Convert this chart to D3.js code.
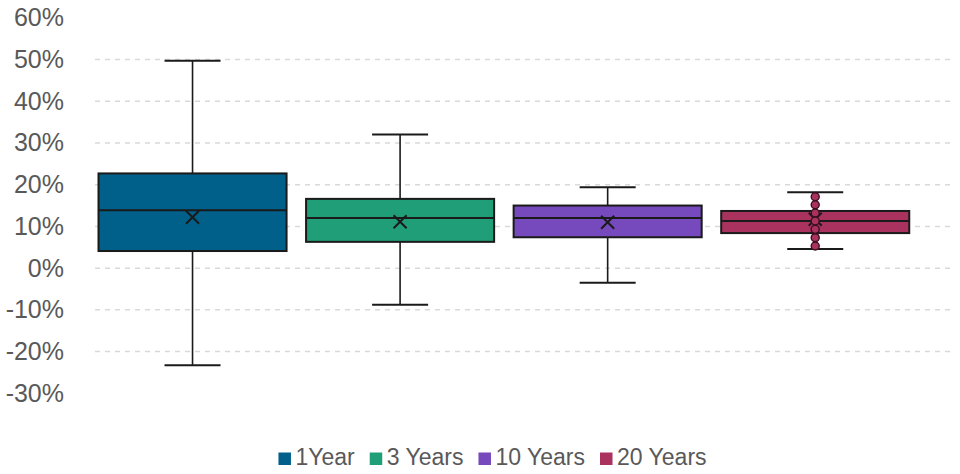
<!DOCTYPE html>
<html>
<head>
<meta charset="utf-8">
<script src="https://cdn.jsdelivr.net/npm/d3@7"></script>
<style>
  body { margin: 0; background: #fff; }
  text { font-family: "Liberation Sans", Arial, sans-serif; fill: #595959; }
</style>
</head>
<body>
<script>
// box plot stats (fractions)
var series = ["1Year", "3 Years", "10 Years", "20 Years"];
var colors = ["#01608A", "#1F9E78", "#7649BC", "#A9325E"];
var minVals = [-0.233, -0.088, -0.035, 0.046];
var q1Vals = [0.041, 0.063, 0.074, 0.084];
var medians = [0.139, 0.120, 0.120, 0.113];
var q3Vals = [0.227, 0.166, 0.150, 0.137];
var maxVals = [0.497, 0.320, 0.194, 0.182];
var means = [0.122, 0.111, 0.110, 0.117];
// inner points shown for the 20 year series
var innerPoints = [0.171, 0.152, 0.132, 0.113, 0.093, 0.073, 0.053];
var yTicks = [-0.3, -0.2, -0.1, 0, 0.1, 0.2, 0.3, 0.4, 0.5, 0.6];
var gridTicks = [-0.2, -0.1, 0, 0.1, 0.2, 0.3, 0.4, 0.5];

var width = 960, height = 474;

var svg = d3.select("body").append("svg")
  .attr("width", width)
  .attr("height", height);

var y = d3.scaleLinear()
  .domain([-0.3, 0.6])
  .range([393.3, 17.8]);

var x = d3.scaleBand()
  .domain(series)
  .range([88.75, 919])
  .paddingInner(0.094)
  .paddingOuter(0.047);

var data = series.map((s, i) => ({
  name: s, color: colors[i], min: minVals[i], q1: q1Vals[i], med: medians[i],
  q3: q3Vals[i], max: maxVals[i], mean: means[i]
}));

// gridlines
svg.append("g")
  .selectAll("line")
  .data(gridTicks)
  .join("line")
    .attr("x1", 95)
    .attr("x2", 950)
    .attr("y1", d => y(d))
    .attr("y2", d => y(d))
    .attr("stroke", "#d9d9d9")
    .attr("stroke-width", 1.5)
    .attr("stroke-dasharray", "5,5");

// y axis labels
svg.append("g")
  .attr("transform", "translate(64,0)")
  .call(d3.axisLeft(y).tickValues(yTicks).tickSize(0).tickPadding(0)
    .tickFormat(d => Math.round(d * 100) + "%"))
  .call(g => g.select(".domain").remove())
  .call(g => g.selectAll("text")
    .attr("font-size", 25)
    .attr("font-family", "Liberation Sans, Arial, sans-serif")
    .attr("fill", "#595959"));

var boxes = svg.append("g")
  .selectAll("g")
  .data(data)
  .join("g");

var cx = d => x(d.name) + x.bandwidth() / 2;
var capW = 56;

// whiskers
boxes.append("line")
  .attr("x1", cx).attr("x2", cx)
  .attr("y1", d => y(d.max)).attr("y2", d => y(d.min))
  .attr("stroke", "#1a1a1a").attr("stroke-width", 1.6);
boxes.append("line")
  .attr("x1", d => cx(d) - capW / 2).attr("x2", d => cx(d) + capW / 2)
  .attr("y1", d => y(d.max)).attr("y2", d => y(d.max))
  .attr("stroke", "#1a1a1a").attr("stroke-width", 2);
boxes.append("line")
  .attr("x1", d => cx(d) - capW / 2).attr("x2", d => cx(d) + capW / 2)
  .attr("y1", d => y(d.min)).attr("y2", d => y(d.min))
  .attr("stroke", "#1a1a1a").attr("stroke-width", 2);

// boxes
boxes.append("rect")
  .attr("x", d => x(d.name))
  .attr("width", x.bandwidth())
  .attr("y", d => y(d.q3))
  .attr("height", d => y(d.q1) - y(d.q3))
  .attr("fill", d => d.color)
  .attr("stroke", "#1a1a1a")
  .attr("stroke-width", 2);

// medians
boxes.append("line")
  .attr("x1", d => x(d.name)).attr("x2", d => x(d.name) + x.bandwidth())
  .attr("y1", d => y(d.med)).attr("y2", d => y(d.med))
  .attr("stroke", "#1a1a1a").attr("stroke-width", 2);

// inner points (20 Years)
var last = data[3];
svg.append("g")
  .selectAll("circle")
  .data(innerPoints)
  .join("circle")
    .attr("cx", cx(last))
    .attr("cy", d => y(d))
    .attr("r", 4)
    .attr("fill", last.color)
    .attr("stroke", "#3a1020")
    .attr("stroke-width", 1.4);

// mean markers
var m = 6.5;
boxes.append("path")
  .attr("d", d => {
    var px = cx(d), py = y(d.mean);
    return `M${px - m},${py - m}L${px + m},${py + m}M${px - m},${py + m}L${px + m},${py - m}`;
  })
  .attr("stroke", "#1a1a1a")
  .attr("stroke-width", 2)
  .attr("fill", "none");

// legend
var legend = svg.append("g");
var lx = 0;
data.forEach((d, i) => {
  var item = legend.append("g").attr("transform", `translate(${lx},0)`);
  item.append("rect")
    .attr("x", 0).attr("y", -12.5)
    .attr("width", 12.5).attr("height", 12.5)
    .attr("fill", d.color);
  var t = item.append("text")
    .attr("x", 17)
    .attr("y", 0)
    .attr("font-size", 23)
    .text(d.name);
  lx += 17 + t.node().getComputedTextLength() + 15;
});
lx -= 15;
legend.attr("transform", `translate(${(277 + 708) / 2 - lx / 2},465)`);
</script>
</body>
</html>
